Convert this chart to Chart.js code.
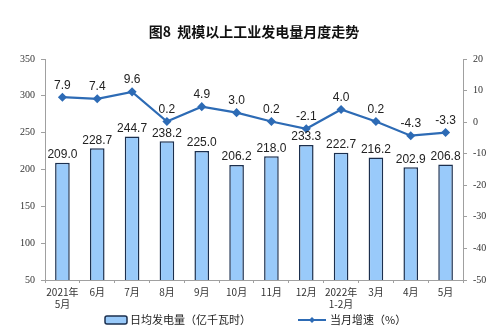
<!DOCTYPE html>
<html>
<head>
<meta charset="utf-8">
<script src="https://cdn.jsdelivr.net/npm/chart.js@4/dist/chart.umd.min.js"></script>
<style>
  html, body { margin: 0; padding: 0; background: #fff; }
  #wrap { width: 500px; height: 334px; position: relative; }
</style>
</head>
<body>
<div id="wrap"><canvas id="c" width="500" height="334"></canvas></div>
<script>
// Monthly output of industrial power generation
const months = [['2021年', '5月'], '6月', '7月', '8月', '9月', '10月', '11月', '12月', ['2022年', '1-2月'], '3月', '4月', '5月'];
const dailyOutput = [209.0, 228.7, 244.7, 238.2, 225.0, 206.2, 218.0, 233.3, 222.7, 216.2, 202.9, 206.8];
const growthRate = [7.9, 7.4, 9.6, 0.2, 4.9, 3.0, 0.2, -2.1, 4.0, 0.2, -4.3, -3.3];
const leftTicks = [50, 100, 150, 200, 250, 300, 350];
const rightTicks = [-50, -40, -30, -20, -10, 0, 10, 20];

const BAR_FILL = '#99CAFA';
const BAR_EDGE = '#1B2F4E';
const LINE_COLOR = '#2D6BB5';
const AXIS_COLOR = '#A0A0A0';
const SANS = '"Liberation Sans", Arial, sans-serif';
const CJK = '"Noto Sans CJK SC", sans-serif';

// Value labels above bars and line points, plus title and legend
const decorations = {
  id: 'decorations',
  afterDatasetsDraw(chart) {
    const ctx = chart.ctx;
    ctx.save();
    ctx.fillStyle = '#222';
    ctx.font = '12px ' + SANS;
    ctx.textAlign = 'center';
    ctx.textBaseline = 'bottom';
    chart.getDatasetMeta(0).data.forEach((bar, i) => {
      ctx.fillText(dailyOutput[i].toFixed(1), bar.x, bar.y - 2);
    });
    chart.getDatasetMeta(1).data.forEach((pt, i) => {
      ctx.fillText(growthRate[i].toFixed(1), pt.x, pt.y - 6);
    });

    // title
    ctx.font = 'bold 14px ' + CJK;
    ctx.textBaseline = 'middle';
    ctx.fillStyle = '#111';
    ctx.fillText('图8  规模以上工业发电量月度走势', 254, 32);

    // legend
    const ly = 320;
    ctx.fillStyle = BAR_FILL;
    ctx.strokeStyle = BAR_EDGE;
    ctx.lineWidth = 1.5;
    ctx.beginPath();
    ctx.roundRect(105, ly - 4, 22, 8, 2);
    ctx.fill();
    ctx.stroke();
    ctx.fillStyle = '#222';
    ctx.font = '11px ' + CJK;
    ctx.textAlign = 'left';
    ctx.fillText('日均发电量（亿千瓦时）', 130, ly);

    ctx.strokeStyle = LINE_COLOR;
    ctx.lineWidth = 2;
    ctx.beginPath();
    ctx.moveTo(298, ly);
    ctx.lineTo(326, ly);
    ctx.stroke();
    ctx.fillStyle = LINE_COLOR;
    ctx.beginPath();
    ctx.moveTo(312, ly - 3); ctx.lineTo(315, ly); ctx.lineTo(312, ly + 3); ctx.lineTo(309, ly);
    ctx.closePath();
    ctx.fill();
    ctx.fillStyle = '#222';
    ctx.fillText('当月增速（%）', 330, ly);
    ctx.restore();
  }
};

new Chart(document.getElementById('c'), {
  type: 'bar',
  data: {
    labels: months,
    datasets: [
      {
        type: 'bar',
        label: '日均发电量（亿千瓦时）',
        data: dailyOutput,
        yAxisID: 'y',
        backgroundColor: BAR_FILL,
        borderColor: BAR_EDGE,
        borderWidth: 1.5,
        borderSkipped: false,
        barPercentage: 0.42,
        categoryPercentage: 1.0,
        order: 2
      },
      {
        type: 'line',
        label: '当月增速（%）',
        data: growthRate,
        yAxisID: 'y1',
        borderColor: LINE_COLOR,
        backgroundColor: LINE_COLOR,
        borderWidth: 2.2,
        pointStyle: 'rectRot',
        pointRadius: 3,
        tension: 0,
        order: 1
      }
    ]
  },
  options: {
    responsive: false,
    animation: false,
    devicePixelRatio: 1,
    layout: { padding: { top: 59, bottom: 24, left: 0, right: 0 } },
    plugins: {
      legend: { display: false },
      title: { display: false },
      tooltip: { enabled: false }
    },
    scales: {
      x: {
        offset: true,
        grid: { offset: true, drawOnChartArea: false, drawTicks: true, tickLength: 3, color: AXIS_COLOR },
        border: { display: true, color: AXIS_COLOR },
        ticks: { color: '#333', font: { size: 10, family: CJK }, padding: 3, maxRotation: 0, autoSkip: false },
        afterFit(s) { s.height = 30; }
      },
      y: {
        position: 'left',
        min: 50, max: 350,
        afterBuildTicks(s) { s.ticks = leftTicks.map(v => ({ value: v })); },
        grid: { drawOnChartArea: false, drawTicks: true, tickLength: 4, color: AXIS_COLOR },
        border: { display: true, color: AXIS_COLOR },
        ticks: { color: '#333', font: { size: 10, family: '"Liberation Serif", serif' }, padding: 6 },
        afterFit(s) { s.width = 45; }
      },
      y1: {
        position: 'right',
        min: -50, max: 20,
        afterBuildTicks(s) { s.ticks = rightTicks.map(v => ({ value: v })); },
        grid: { drawOnChartArea: false, drawTicks: true, tickLength: 4, color: AXIS_COLOR },
        border: { display: true, color: AXIS_COLOR },
        ticks: { color: '#333', font: { size: 10, family: '"Liberation Serif", serif' }, padding: 6 },
        afterFit(s) { s.width = 37; }
      }
    }
  },
  plugins: [decorations]
});
</script>
</body>
</html>
